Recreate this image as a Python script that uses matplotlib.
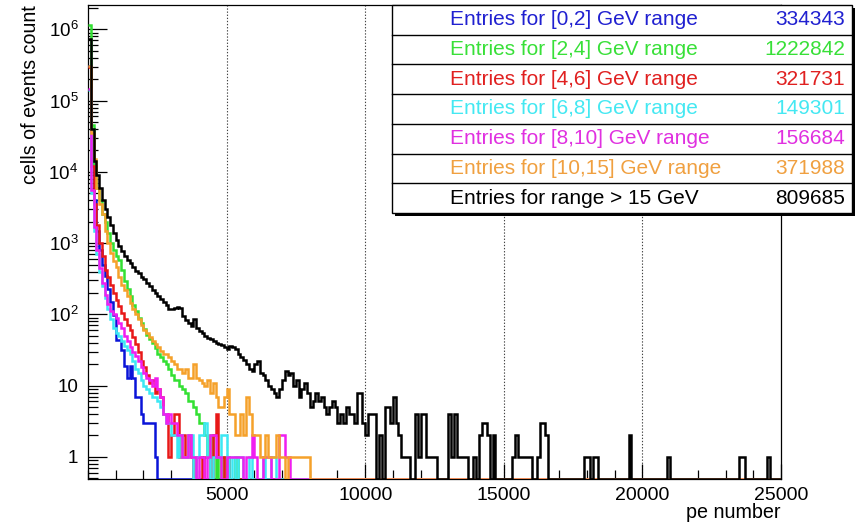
import numpy as np
import matplotlib
matplotlib.use("Agg")
import matplotlib.pyplot as plt
from matplotlib.ticker import FixedLocator, MultipleLocator, LogLocator, NullFormatter, FixedFormatter
from matplotlib.patches import Rectangle
from matplotlib.lines import Line2D

plt.rcParams['font.family'] = ['Liberation Sans', 'DejaVu Sans']
plt.rcParams['mathtext.fontset'] = 'custom'
plt.rcParams['mathtext.rm'] = 'Liberation Sans'

# histogram binning (pe number)
bin_width = 100
n_bins = 250

# bin contents per energy range, starting at the first bin
counts_0_2 = [311000, 15000, 4000, 1500, 800, 500, 350, 230, 150, 98, 44, 44, 32, 19, 13,
              19, 13, 7, 7, 4, 3, 3, 3, 3, 1]
counts_2_4 = [1146000, 45000, 12000, 6000, 4000, 2600, 2000, 1400, 1000, 800, 650, 580, 420,
              290, 230, 180, 135, 110, 90, 75, 62, 52, 45, 40, 34, 28, 25, 22, 20, 17, 14, 12,
              12, 10, 9, 8, 6, 6, 5, 4, 3, 3, 2, 1, 2, 1, 0, 1, 0, 1, 1, 0, 0, 1]
counts_4_6 = [301000, 12000, 3500, 1800, 1000, 650, 420, 330, 260, 200, 160, 130, 105, 85, 70,
              60, 48, 38, 30, 22, 18, 14, 11, 12, 8, 9, 7, 4, 4, 1, 2, 4, 4, 1, 2, 1, 2, 1, 0,
              1, 1, 0, 1, 1, 0, 2, 4, 1, 1, 0, 1]
counts_6_8 = [141000, 5000, 1500, 700, 400, 250, 170, 120, 85, 65, 54, 50, 42, 36, 32, 28, 22,
              17, 15, 12, 10, 9, 8, 7, 7, 6, 5, 4, 3, 3, 2, 2, 1, 2, 1, 1, 2, 2, 0, 1, 2, 2, 3,
              1, 0, 1, 1, 1, 2, 2, 1, 0, 1, 0, 1, 1, 0, 0, 1, 0, 0, 0, 0, 1, 0, 0, 1, 1]
counts_8_10 = [145000, 5500, 1700, 800, 450, 280, 190, 140, 110, 100, 90, 75, 65, 50, 42, 35,
               30, 26, 22, 18, 15, 13, 12, 10, 13, 9, 7, 4, 3, 4, 3, 3, 2, 2, 1, 1, 2, 1, 1, 0,
               1, 1, 0, 1, 2, 2, 1, 1, 0, 0, 1, 1, 1, 1, 1, 1, 0, 1, 1, 2, 1, 0, 0, 1, 1, 1, 0,
               0, 0, 2, 2, 1, 1]
counts_10_15 = [305000, 35000, 15000, 6000, 3500, 2600, 1500, 1000, 730, 560, 465, 336, 260,
                220, 180, 145, 120, 100, 85, 70, 60, 55, 48, 42, 39, 35, 31, 28, 28, 25, 22, 20,
                17, 17, 15, 17, 13, 13, 20, 13, 12, 11, 10, 12, 8, 11, 7, 5, 5, 7, 9, 4, 4, 2,
                2, 4, 2, 7, 4, 2, 2, 2, 1, 1, 2, 1, 1, 1, 2, 1, 1, 0, 1, 1, 1, 1, 1, 1, 1, 1]
counts_gt_15 = [740000, 40000, 14000, 9000, 6000, 4000, 3000, 2300, 1800, 1400, 1100, 900, 780,
                660, 580, 520, 460, 410, 380, 340, 310, 280, 250, 220, 200, 180, 165, 150, 135,
                120, 118, 122, 126, 125, 95, 83, 75, 68, 85, 64, 58, 54, 50, 47, 45, 42, 40, 39,
                37, 35, 33, 36, 35, 33, 28, 25, 23, 20, 17, 16, 20, 22, 15, 14, 12, 10, 9, 8, 7,
                9, 12, 16, 14, 15, 10, 12, 7, 9, 11, 8, 5, 6, 8, 6, 7, 5, 4, 5, 6, 5, 3, 4, 3, 5,
                4, 4, 3, 8, 8, 3, 2, 4, 4, 4, 0, 2, 0, 5, 5, 3, 7, 3, 2, 1, 1, 1, 0, 0, 4, 1, 4,
                4, 1, 1, 1, 1, 0, 0, 0, 0, 4, 1, 4, 1, 1, 1, 1, 0, 0, 1, 0, 2, 3, 3, 2, 0, 2, 0,
                0, 0, 0, 0, 0, 1, 2, 1, 1, 1, 1, 1, 0, 0, 1, 3, 3, 2, 0, 0, 0, 0, 0, 0, 0, 0, 0,
                0, 0, 0, 0, 1, 1, 0, 1, 1, 0, 0, 0, 0, 0, 0, 0, 0, 0, 0, 0, 2, 0, 0, 0, 0, 0, 0,
                0, 0, 0, 0, 0, 0, 0, 1, 0, 0, 0, 0, 0, 0, 0, 0, 0, 0, 0, 0, 0, 0, 0, 0, 0, 0, 0,
                0, 0, 0, 0, 0, 0, 1, 1, 0, 0, 0, 0, 0, 0, 0, 0, 1]

labels = ["Entries for [0,2] GeV range", "Entries for [2,4] GeV range",
          "Entries for [4,6] GeV range", "Entries for [6,8] GeV range",
          "Entries for [8,10] GeV range", "Entries for [10,15] GeV range",
          "Entries for range > 15 GeV"]
entries = [334343, 1222842, 321731, 149301, 156684, 371988, 809685]
line_colors = ["#0a14d8", "#33e033", "#e81818", "#3ce8f4", "#f01ef0", "#f5a12a", "#000000"]
text_colors = ["#2020d0", "#38e038", "#e02020", "#44e8f2", "#e030e0", "#f0a040", "#000000"]
all_counts = [counts_0_2, counts_2_4, counts_4_6, counts_6_8, counts_8_10, counts_10_15,
              counts_gt_15]

y_min, y_max = 0.49, 2.2e6
W, H = 861, 523

fig = plt.figure(figsize=(W / 100, H / 100), dpi=100)
ax = fig.add_axes([88 / W, 1 - 479 / H, (781 - 88) / W, (479 - 5) / H])

edges = np.arange(n_bins + 1) * bin_width
draw_order = [6, 0, 1, 2, 3, 4, 5]
for k in draw_order:
    c = np.zeros(n_bins)
    c[:len(all_counts[k])] = all_counts[k]
    vals = np.where(c > 0, c, y_min)
    ax.stairs(vals, edges, baseline=None, color=line_colors[k], lw=1.8, zorder=3 + k * 0.01)

ax.set_yscale('log')
ax.set_xlim(0, n_bins * bin_width)
ax.set_ylim(y_min, y_max)

# x axis ticks
ax.xaxis.set_major_locator(FixedLocator([5000, 10000, 15000, 20000, 25000]))
ax.xaxis.set_major_formatter(FixedFormatter(["5000", "10000", "15000", "20000", "25000"]))
ax.xaxis.set_minor_locator(MultipleLocator(1000))

# y axis ticks
decades = [1, 10, 100, 1e3, 1e4, 1e5, 1e6]
ax.yaxis.set_major_locator(FixedLocator(decades))
ax.yaxis.set_major_formatter(FixedFormatter(
    ["1", "10", r"$\mathregular{10^{2}}$", r"$\mathregular{10^{3}}$", r"$\mathregular{10^{4}}$",
     r"$\mathregular{10^{5}}$", r"$\mathregular{10^{6}}$"]))
ax.yaxis.set_minor_locator(LogLocator(base=10, subs=np.arange(2, 10), numticks=20))
ax.yaxis.set_minor_formatter(NullFormatter())

ax.tick_params(axis='x', which='major', direction='in', length=11, width=0.9,
               labelsize=14, pad=6, top=False)
ax.tick_params(axis='x', which='minor', direction='in', length=6.5, width=0.9, top=False)
ax.tick_params(axis='y', which='major', direction='in', length=14, width=0.9,
               labelsize=13.5, pad=7, right=False)
ax.tick_params(axis='y', which='minor', direction='in', length=7, width=0.9, right=False)
for s in ax.spines.values():
    s.set_linewidth(0.9)

# dotted vertical grid
for gx in [5000, 10000, 15000, 20000]:
    ax.axvline(gx, color='#444444', lw=0.8, ls=(0, (1.2, 1.6)), zorder=1)


def fx(px):
    return px / W


def fy(py):
    return 1 - py / H


# axis titles, right/top aligned like the frame ends
fig.text(fx(780), fy(518), "pe number", fontsize=14.2, ha='right', va='baseline')
fig.text(fx(31), fy(5), "cells of events count", fontsize=14.1, rotation=90,
         ha='center', va='top')

# entries table in the upper right
box_l, box_r, box_t, box_b = 392, 852, 5, 213
shadow = Rectangle((fx(box_l + 3), fy(box_b + 3)), fx(box_r - box_l), (box_b - box_t) / H,
                   transform=fig.transFigure, facecolor='black', edgecolor='none', zorder=9)
fig.add_artist(shadow)
box = Rectangle((fx(box_l), fy(box_b)), fx(box_r - box_l), (box_b - box_t) / H,
                transform=fig.transFigure, facecolor='white', edgecolor='black', lw=1.0,
                zorder=10)
fig.add_artist(box)
row_h = (box_b - box_t) / len(labels)
for i, (lab, n, col) in enumerate(zip(labels, entries, text_colors)):
    y_mid = box_t + row_h * (i + 0.5)
    fig.text(fx(450), fy(y_mid), lab, color=col, fontsize=15, ha='left', va='center',
             zorder=11)
    fig.text(fx(845), fy(y_mid), str(n), color=col, fontsize=15, ha='right', va='center',
             zorder=11)
    if i > 0:
        y_sep = box_t + row_h * i
        fig.add_artist(Line2D([fx(box_l), fx(box_r)], [fy(y_sep), fy(y_sep)],
                              transform=fig.transFigure, color='black', lw=1.0, zorder=11))

fig.savefig("out.png", dpi=100)
